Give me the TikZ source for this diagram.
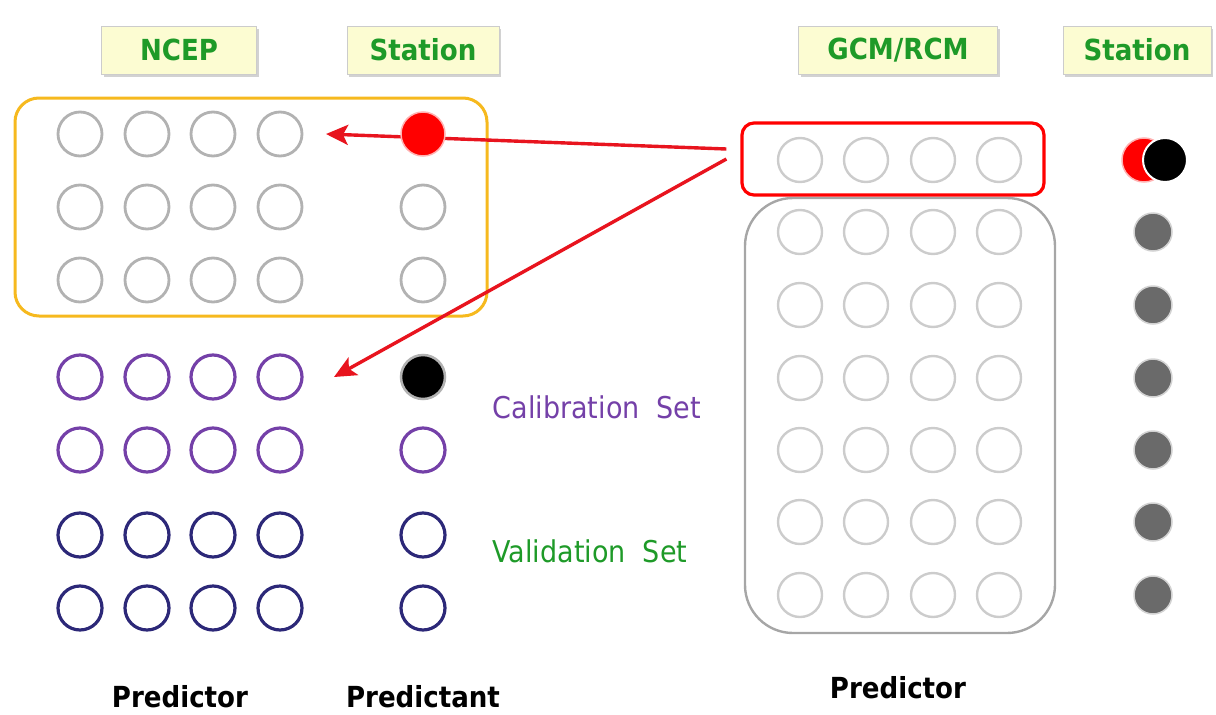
\documentclass[tikz,border=0pt]{standalone}
\usepackage{fontspec}
\newfontfamily\condfont{DejaVu Sans Condensed}
\usetikzlibrary{arrows.meta,shadows}

\definecolor{headfill}{HTML}{FCFCD2}
\definecolor{headgreen}{HTML}{1E9A28}
\definecolor{calpurple}{HTML}{7440A8}
\definecolor{valnavy}{HTML}{2C2878}
\definecolor{ringgray}{HTML}{B2B2B2}
\definecolor{palegray}{HTML}{CCCCCC}
\definecolor{dotgray}{HTML}{6A6A6A}
\definecolor{boxorange}{HTML}{F6B91E}
\definecolor{arrowred}{HTML}{E8141E}

\tikzset{
  header/.style={draw=gray!40, fill=headfill, minimum height=48pt,
    font=\condfont\bfseries\fontsize{29}{29}\selectfont, text=headgreen,
    drop shadow={shadow xshift=2pt, shadow yshift=-3pt, fill=gray!70}},
  ring/.style={circle, draw=#1, line width=2.8pt, minimum size=44pt, inner sep=0pt},
  dot/.style 2 args={circle, fill=#1, draw=#1!30, line width=1.5pt, minimum size=#2, inner sep=0pt},
  setlabel/.style={font=\condfont\fontsize{30}{30}\selectfont, text=#1},
  footer/.style={font=\condfont\bfseries\fontsize{29}{29}\selectfont, text=black},
  redarrow/.style={draw=arrowred, line width=3.4pt, -{Stealth[length=22pt, width=20pt, inset=5pt]}}
}

\begin{document}
\begin{tikzpicture}[x=1pt, y=-1pt]
    \useasboundingbox (0,0) rectangle (1216,715);

    % headers
    \node[header, minimum width=155pt] (ncep) at (179,50) {NCEP};
    \node[header, minimum width=152pt] (stl) at (423,50) {Station};
    \node[header, minimum width=199pt] (gcm) at (898,50) {GCM/RCM};
    \node[header, minimum width=148pt] (str) at (1137,50) {Station};

    % NCEP predictors and station predictant
    \foreach \y [count=\r] in {134,207,280} {
        \foreach \x [count=\c] in {80,147,213,280}
            \node[ring=ringgray] (n-\r-\c) at (\x,\y) {};
    }
    \foreach \y [count=\r from 4] in {377,450} {
        \foreach \x [count=\c] in {80,147,213,280}
            \node[ring=calpurple, line width=3.2pt] (n-\r-\c) at (\x,\y) {};
    }
    \foreach \y [count=\r from 6] in {535,608} {
        \foreach \x [count=\c] in {80,147,213,280}
            \node[ring=valnavy, line width=3.2pt] (n-\r-\c) at (\x,\y) {};
    }
    \node[ring=ringgray] (s2) at (423,207) {};
    \node[ring=ringgray] (s3) at (423,280) {};
    \node[dot={black}{44pt}, draw=gray!60, line width=2.5pt] (s4) at (423,377) {};
    \node[ring=calpurple, line width=3.2pt] (s5) at (423,450) {};
    \node[ring=valnavy, line width=3.2pt] (s6) at (423,535) {};
    \node[ring=valnavy, line width=3.2pt] (s7) at (423,608) {};

    \draw[boxorange, line width=3pt, rounded corners=24pt] (15,98) rectangle (487,316);

    % GCM/RCM predictors
    \foreach \y [count=\r] in {160,232,305,378,450,522,595} {
        \foreach \x [count=\c] in {800,866,933,999}
            \node[ring=palegray, line width=2.4pt] (g-\r-\c) at (\x,\y) {};
    }
    \draw[gray!70, line width=2.4pt, rounded corners=48pt] (745,198) rectangle (1055,633);
    \node[draw=red, line width=3.2pt, rounded corners=12pt, minimum width=302pt,
          minimum height=72pt] (gcmrow) at (893,159) {};

    % station values on the right
    \node[dot={red}{44pt}] (r0) at (1144,160) {};
    \node[dot={black}{44pt}, draw=white, line width=2pt] (r1) at (1165,160) {};
    \foreach \y [count=\r from 2] in {232,305,378,450,522,595}
        \node[dot={dotgray}{38pt}] (r\r) at (1153,\y) {};

    % arrows
    \coordinate (tipA) at (326,134);
    \coordinate (tipB) at (334,377);
    \draw[redarrow] ([shift={(-14pt,10pt)}]gcmrow.west) -- (tipA);
    \draw[redarrow] ([shift={(-14pt,0pt)}]gcmrow.west) -- (tipB);
    \node[dot={red}{44pt}] (s1) at (423,134) {};

    % labels
    \node[setlabel=calpurple] (cal) at (597,407) {Calibration\ \ Set};
    \node[setlabel=headgreen] (val) at (590,551) {Validation\ \ Set};
    \node[footer] (predl) at (180,697) {Predictor};
    \node[footer] (predt) at (423,697) {Predictant};
    \node[footer] (predr) at (898,688) {Predictor};
\end{tikzpicture}
\end{document}
